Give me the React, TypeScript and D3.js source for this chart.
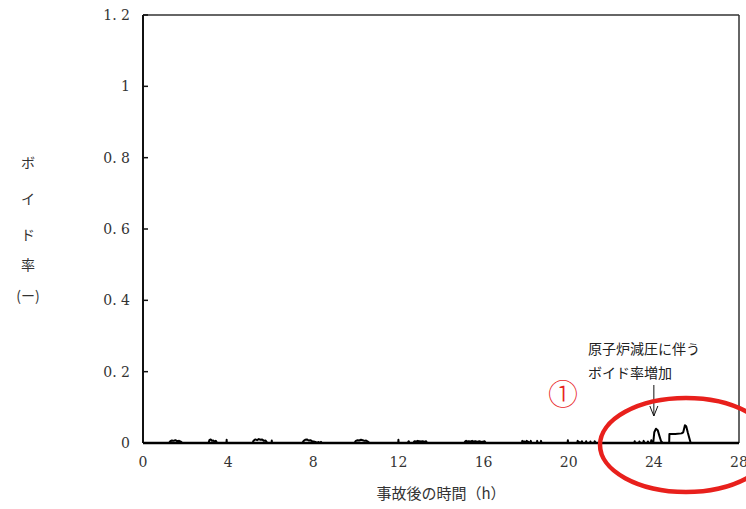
import React from "react";
import * as d3 from "d3";

const hours = [
  0, 1.22, 1.28, 1.36, 1.44, 1.52, 1.6, 1.7, 1.78, 1.84,
  3.08, 3.12, 3.18, 3.24, 3.3, 3.36, 3.42, 3.48,
  3.92, 3.93, 3.94,
  5.15, 5.2, 5.28, 5.36, 5.44, 5.52, 5.6, 5.68, 5.76, 5.84,
  6.04, 6.05, 6.06,
  7.48, 7.55, 7.62, 7.7, 7.78, 7.86, 7.94, 8.02, 8.1, 8.18, 8.24, 8.3, 8.36, 8.4,
  9.94, 10.0, 10.08, 10.16, 10.24, 10.32, 10.4, 10.48, 10.56, 10.64,
  11.99, 12.0, 12.01,
  12.44, 12.48, 12.52, 12.7, 12.75, 12.82, 12.9, 12.98, 13.06, 13.14, 13.22, 13.3, 13.34,
  15.1, 15.13, 15.18, 15.24, 15.3, 15.38, 15.46, 15.54, 15.62, 15.7, 15.8, 15.9, 16.0, 16.05, 16.1,
  17.8, 17.82, 17.86, 17.92, 18.0, 18.02, 18.2, 18.22, 18.24, 18.5, 18.52, 18.54, 18.68, 18.7, 18.72,
  19.95, 19.96, 19.97,
  20.4, 20.42, 20.46, 20.6, 20.62, 20.64, 20.8, 20.82, 20.84, 21.0, 21.02, 21.04, 21.2, 21.22, 21.28,
  23.08, 23.1, 23.12, 23.3, 23.32, 23.36, 23.5, 23.52, 23.56, 23.7, 23.72, 23.76, 23.86, 23.88, 23.9,
  23.97, 24.02, 24.1, 24.18, 24.26, 24.34, 24.41,
  24.72, 24.73, 25.0, 25.3, 25.38, 25.46, 25.52, 25.6, 25.73,
  28,
];

const voidRate = [
  0, 0, 0.005, 0.007, 0.006, 0.008, 0.005, 0.006, 0.004, 0,
  0, 0.008, 0.01, 0.006, 0.007, 0.004, 0.006, 0,
  0, 0.009, 0,
  0, 0.007, 0.01, 0.008, 0.011, 0.009, 0.01, 0.006, 0.007, 0,
  0, 0.007, 0,
  0, 0.006, 0.009, 0.01, 0.007, 0.008, 0.005, 0.004, 0.003, 0, 0.003, 0, 0.003, 0,
  0, 0.006, 0.008, 0.007, 0.009, 0.008, 0.006, 0.007, 0.004, 0,
  0, 0.009, 0,
  0, 0.005, 0, 0, 0.005, 0.004, 0.006, 0.005, 0.004, 0.005, 0.003, 0.005, 0,
  0, 0.004, 0.006, 0.004, 0.005, 0.004, 0.006, 0.004, 0.005, 0.003, 0.005, 0.003, 0.004, 0.005, 0,
  0, 0.006, 0.003, 0.004, 0, 0.006, 0, 0.006, 0, 0, 0.006, 0, 0, 0.006, 0,
  0, 0.008, 0,
  0, 0.006, 0.003, 0, 0.005, 0, 0, 0.005, 0, 0, 0.004, 0, 0, 0.005, 0,
  0, 0.005, 0, 0, 0.004, 0, 0, 0.006, 0, 0, 0.004, 0, 0, 0.008, 0,
  0, 0.03, 0.04, 0.036, 0.02, 0.005, 0,
  0, 0.025, 0.025, 0.027, 0.03, 0.05, 0.047, 0.028, 0,
  0,
];

const yTicks = [0, 0.2, 0.4, 0.6, 0.8, 1, 1.2];
const yTickLabels = ["0", "0. 2", "0. 4", "0. 6", "0. 8", "1", "1. 2"];
const xTicks = [0, 4, 8, 12, 16, 20, 24, 28];
const yLabelChars = ["ボ", "イ", "ド", "率", "(ー)"];
const xLabel = "事故後の時間（h）";
const noteLines = ["原子炉減圧に伴う", "ボイド率増加"];

export default function App() {
  const W = 746, H = 509;
  const left = 143, right = 739, top = 15, bottom = 443;
  const x = d3.scaleLinear().domain([0, 28]).range([left, right]);
  const y = d3.scaleLinear().domain([0, 1.2]).range([bottom, top]);
  const pts = hours.map((h, i) => [h, voidRate[i]] as [number, number]);
  const line = d3.line<[number, number]>().x(d => x(d[0])).y(d => y(d[1]));
  const serif = "'DejaVu Serif', 'Liberation Serif', serif";
  const jp = "'Noto Sans CJK JP', sans-serif";
  const arrowX = x(24.0);
  return (
    <svg width={W} height={H} style={{ position: "absolute", left: 0, top: 0, background: "#fff" }}>
      <rect x={0} y={0} width={W} height={H} fill="#fff" />
      <line x1={left} x2={right} y1={top} y2={top} stroke="#333" strokeWidth={1.5} />
      <line x1={right} x2={right} y1={top} y2={bottom} stroke="#333" strokeWidth={1.5} />
      <line x1={left} x2={left} y1={top} y2={bottom} stroke="#111" strokeWidth={2} />
      {yTicks.map((t, i) => (
        <g key={t}>
          <line x1={left} x2={left + 5} y1={y(t)} y2={y(t)} stroke="#111" strokeWidth={1.5} />
          <text x={130} y={y(t) + 5} textAnchor="end" fontFamily={serif} fontSize={14} fill="#333">{yTickLabels[i]}</text>
        </g>
      ))}
      {xTicks.map(t => (
        <text key={t} x={x(t)} y={467} textAnchor="middle" fontFamily={serif} fontSize={14} fill="#333">{t}</text>
      ))}
      <path d={line(pts) || ""} fill="none" stroke="#000" strokeWidth={2} strokeLinejoin="round" />
      <line x1={left} x2={right} y1={bottom} y2={bottom} stroke="#000" strokeWidth={2.5} />
      {yLabelChars.map((c, i) => (
        <text key={i} x={28} y={[168, 204, 240, 270, 301][i]} textAnchor="middle" fontFamily={jp} fontSize={14} fill="#333">{c}</text>
      ))}
      <text x={441} y={499} textAnchor="middle" fontFamily={jp} fontSize={15} fill="#333">{xLabel}</text>
      {noteLines.map((s, i) => (
        <text key={i} x={588} y={354 + i * 24} fontFamily={jp} fontSize={14} fill="#222">{s}</text>
      ))}
      <line x1={arrowX} x2={arrowX} y1={385} y2={416} stroke="#111" strokeWidth={1} />
      <path d={`M${arrowX - 4},${406} L${arrowX},${416} L${arrowX + 4},${406}`} fill="none" stroke="#111" strokeWidth={1} />
      <text x={563} y={405} textAnchor="middle" fontFamily={jp} fontSize={30} fontWeight={300} fill="#e8251f">①</text>
      <ellipse cx={686} cy={445} rx={86} ry={47} fill="none" stroke="#e8201c" strokeWidth={4.5} />
    </svg>
  );
}
